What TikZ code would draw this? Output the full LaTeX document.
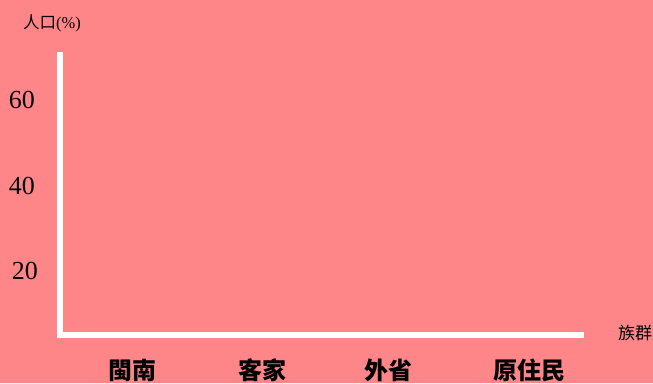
\documentclass[tikz,border=0pt]{standalone}
\usepackage{fontspec}
\setmainfont{Liberation Serif}
\newfontfamily\cjk{Noto Sans CJK TC}
\definecolor{bgpink}{RGB}{255,134,136}
\begin{document}
\begin{tikzpicture}[x=1pt,y=-1pt,
  axisline/.style={draw=white,line width=6pt,line join=miter},
  ticklabel/.style={font=\fontsize{26}{28}\selectfont,text=black,inner sep=0pt},
  catlabel/.style={font=\cjk\fontsize{24}{26}\selectfont\bfseries,text=black,inner sep=0pt},
  axtitle/.style={font=\fontsize{16.5}{18}\selectfont,text=black,inner sep=0pt}]
\fill[bgpink] (0,0) rectangle (653,383);
\useasboundingbox (0,0) rectangle (653,383);
\coordinate (top) at (59.5,52);
\coordinate (origin) at (59.5,335);
\coordinate (right) at (584,335);
\draw[axisline] (top) -- (origin) -- (right);
\node[axtitle] (ylab) at (52,23) {{\cjk 人口}(\%)};
\node[axtitle,font=\cjk\fontsize{17}{19}\selectfont] (xlab) at (635,333) {族群};
\node[ticklabel] (t60) at (22,100) {60};
\node[ticklabel] (t40) at (22,186) {40};
\node[ticklabel] (t20) at (25,271) {20};
\node[catlabel] (c1) at (132,370) {閩南};
\node[catlabel] (c2) at (262,370) {客家};
\node[catlabel] (c3) at (388,370) {外省};
\node[catlabel] (c4) at (529,370) {原住民};
\end{tikzpicture}
\end{document}
